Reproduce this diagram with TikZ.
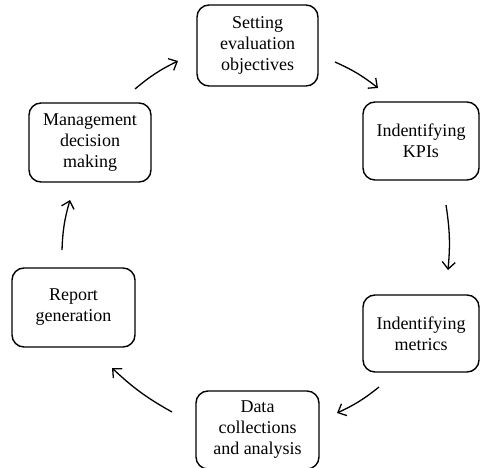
\documentclass[tikz,border=0pt]{standalone}
\usepackage{fontspec}
\setmainfont{Liberation Serif}
\usepackage{tikz}
\usetikzlibrary{arrows.meta}
\tikzset{
    boxnode/.style = {align=center, inner sep=0pt, text centered},
    stage_node/.style = {boxnode, rectangle, rounded corners=12pt, draw=black, line width=1.4pt, font=\fontsize{18}{21}\selectfont},
    flow_arrow/.style = {->, line width=1.3pt, bend left=7}
}

\begin{document}
\begin{tikzpicture}[x=1pt, y=1pt, >={Straight Barb[length=7pt, width=13pt, line width=1.3pt]}]
            \useasboundingbox (0,0) rectangle (480,467);
            % stages
            \node [stage_node, minimum width=121pt, minimum height=81pt] (setting) at (257.5,421.5) {Setting\\evaluation\\objectives};
            \node [stage_node, minimum width=116pt, minimum height=78pt] (kpis) at (421,326) {Indentifying\\KPIs};
            \node [stage_node, minimum width=116pt, minimum height=77pt] (metrics) at (421,133.5) {Indentifying\\metrics};
            \node [stage_node, minimum width=123pt, minimum height=78pt] (data) at (257.5,37) {Data\\collections\\and analysis};
            \node [stage_node, minimum width=123pt, minimum height=79pt] (report) at (73.5,159.5) {Report\\generation};
            \node [stage_node, minimum width=122pt, minimum height=79pt] (mgmt) at (90,324.5) {Management\\decision\\making};
            % arrow ends
            \coordinate (mgmt_out) at (135,378);
            \coordinate (setting_in) at (178,406);
            \coordinate (setting_out) at (335,405);
            \coordinate (kpis_in) at (378,379);
            \coordinate (kpis_out) at (446,262);
            \coordinate (metrics_in) at (448,197);
            \coordinate (metrics_out) at (379,80);
            \coordinate (data_in) at (337,54);
            \coordinate (data_out) at (172,55);
            \coordinate (report_in) at (112,99);
            \coordinate (report_out) at (62,217);
            \coordinate (mgmt_in) at (70,267);
            % flow
            \draw [flow_arrow] (mgmt_out) to (setting_in);
            \draw [flow_arrow] (setting_out) to (kpis_in);
            \draw [flow_arrow] (kpis_out) to (metrics_in);
            \draw [flow_arrow] (metrics_out) to (data_in);
            \draw [flow_arrow] (data_out) to (report_in);
            \draw [flow_arrow] (report_out) to (mgmt_in);
        \end{tikzpicture}
\end{document}
